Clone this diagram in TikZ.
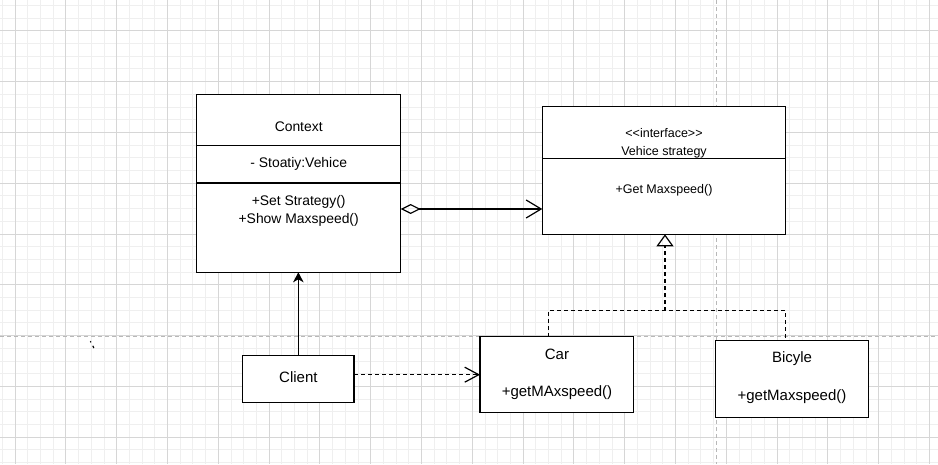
\documentclass[tikz,border=0pt]{standalone}
\usepackage{fontspec}
\setmainfont{Liberation Sans}
\usetikzlibrary{arrows.meta}

\definecolor{gridminor}{HTML}{EFEFEF}
\definecolor{gridmajor}{HTML}{D6D6D6}
\definecolor{pagebreak}{HTML}{B8B8B8}

\tikzset{
    umlbox/.style={draw, line width=1.1pt, fill=white, inner sep=0pt, outer sep=0pt, anchor=north west},
    lbl/.style={inner sep=0pt, text height=0.72em, text depth=0pt},
    ctxtext/.style={lbl, font=\fontsize{13.9}{16}\selectfont},
    iftext/.style={lbl, font=\fontsize{12.5}{14}\selectfont},
    clstext/.style={lbl, font=\fontsize{15}{17}\selectfont},
    link/.style={line width=1.2pt},
    dashlink/.style={line width=1.2pt, dash pattern=on 4pt off 3pt}
}

\begin{document}
\begin{tikzpicture}[x=1pt, y=-1pt]
    % Page and grid
    \useasboundingbox (0,0) rectangle (938,464);
    \fill[white] (0,0) rectangle (938,464);
    \foreach \i in {0,...,73} {
        \draw[gridminor, line width=0.8pt] (2.3+12.7*\i,0) -- (2.3+12.7*\i,464);
    }
    \foreach \i in {0,...,36} {
        \draw[gridminor, line width=0.8pt] (0,5.3+12.7*\i) -- (938,5.3+12.7*\i);
    }
    \foreach \i in {0,...,18} {
        \draw[gridmajor, line width=0.8pt] (15+50.8*\i,0) -- (15+50.8*\i,464);
    }
    \foreach \i in {0,...,9} {
        \draw[gridmajor, line width=0.8pt] (0,30.7+50.8*\i) -- (938,30.7+50.8*\i);
    }
    \draw[pagebreak, line width=1pt, dash pattern=on 4pt off 3pt] (716,0) -- (716,464);
    \draw[pagebreak, line width=1pt, dash pattern=on 4pt off 3pt] (0,336.7) -- (938,336.7);
    \draw[line width=1.2pt] (90.3,341.3) -- (91,342.3) (92.8,345.8) -- (93.8,348);

    % Context class
    \node[umlbox, minimum width=204pt, minimum height=51.4pt] (ctxname) at (196.7,94.3) {};
    \node[umlbox, minimum width=204pt, minimum height=37.3pt] (ctxattr) at (ctxname.south west) {};
    \node[umlbox, minimum width=204pt, minimum height=89.3pt] (ctxops) at (ctxattr.south west) {};
    \node[ctxtext] (ctxlabel) at (298.7,128.3) {Context};
    \node[ctxtext] (ctxfield) at (298.7,164.3) {- Stoatiy:Vehice};
    \node[ctxtext] (ctxset) at (298.7,202.3) {+Set Strategy()};
    \node[ctxtext] (ctxshow) at (298.7,220) {+Show Maxspeed()};

    % Strategy interface
    \node[umlbox, minimum width=243.4pt, minimum height=51.6pt] (ifname) at (542.3,106.7) {};
    \node[umlbox, minimum width=243.4pt, minimum height=76pt] (ifops) at (ifname.south west) {};
    \node[iftext] (ifstereo) at (664,134.3) {<\kern0pt<interface>\kern0pt>};
    \node[iftext] (iflabel) at (664,152.3) {Vehice strategy};
    \node[iftext] (ifget) at (664,190) {+Get Maxspeed()};

    % Client and concrete strategies
    \node[umlbox, minimum width=111.3pt, minimum height=47pt] (client) at (242.7,355.7) {};
    \node[clstext] (clientlabel) at (client.center) {Client};
    \node[umlbox, minimum width=153.3pt, minimum height=76pt] (car) at (480,336.7) {};
    \node[clstext] (carlabel) at (557,356) {Car};
    \node[clstext] (carget) at (557,392.7) {+getMAxspeed()};
    \node[umlbox, minimum width=153.4pt, minimum height=76.6pt] (bike) at (715.3,340.7) {};
    \node[clstext] (bikelabel) at (792,359.3) {Bicyle};
    \node[clstext] (bikeget) at (792,396.7) {+getMaxspeed()};

    % Connectors
    \draw[link, -{Stealth[length=10pt, width=10.5pt, inset=3pt]}] (client.north) -- (client.north |- ctxops.south);
    \coordinate (aggstart) at (400.7,209);
    \draw[link, {Diamond[open, length=20pt, width=10pt]}-{Straight Barb[length=15pt, width=18pt]}]
        (aggstart) -- (aggstart -| ifops.west);
    \draw[dashlink, -{Straight Barb[length=14pt, width=15pt]}] (client.east |- car.west) -- (car.west);
    \coordinate (join) at (665,310.7);
    \draw[dashlink, -{Triangle[open, length=12pt, width=17pt]}] (join) -- (join |- ifops.south);
    \draw[dashlink] ([xshift=68.3pt]car.north west) |- (join) -| ([xshift=70.4pt]bike.north west);
\end{tikzpicture}
\end{document}
